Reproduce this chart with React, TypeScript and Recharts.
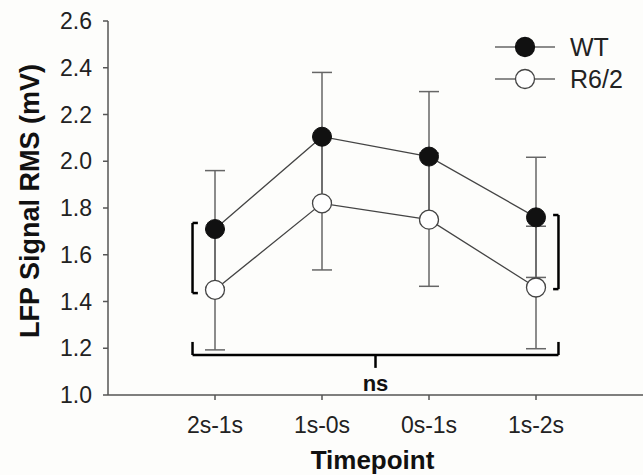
import {
  LineChart, Line, XAxis, YAxis, ErrorBar, ReferenceLine, ReferenceDot, Legend,
} from 'recharts';

const FONT = '"Liberation Sans", Arial, sans-serif';

const categories = ['2s-1s', '1s-0s', '0s-1s', '1s-2s'];
const wtMean = [1.71, 2.105, 2.02, 1.76];
const wtErr = [0.25, 0.275, 0.278, 0.257];
const r62Mean = [1.45, 1.82, 1.75, 1.46];
const r62Err = [0.257, 0.285, 0.285, 0.262];
const yTicks = [1.0, 1.2, 1.4, 1.6, 1.8, 2.0, 2.2, 2.4, 2.6];

// bracket annotations, in data units (x = category position, y = mV)
const bracketSegments = [
  // left "["
  [{ x: 0.79, y: 1.436 }, { x: 0.79, y: 1.736 }],
  [{ x: 0.79, y: 1.736 }, { x: 0.84, y: 1.736 }],
  [{ x: 0.79, y: 1.436 }, { x: 0.84, y: 1.436 }],
  // right "]"
  [{ x: 4.21, y: 1.453 }, { x: 4.21, y: 1.77 }],
  [{ x: 4.16, y: 1.77 }, { x: 4.21, y: 1.77 }],
  [{ x: 4.16, y: 1.453 }, { x: 4.21, y: 1.453 }],
  // bottom brace
  [{ x: 0.79, y: 1.171 }, { x: 4.21, y: 1.171 }],
  [{ x: 0.79, y: 1.171 }, { x: 0.79, y: 1.227 }],
  [{ x: 4.21, y: 1.171 }, { x: 4.21, y: 1.227 }],
  [{ x: 2.5, y: 1.171 }, { x: 2.5, y: 1.116 }],
];

const legendItems = [
  { name: 'WT', fill: '#111', stroke: '#111' },
  { name: 'R6/2', fill: '#fff', stroke: '#444' },
];

const data = categories.map((label, i) => ({
  x: i + 1,
  label,
  wt: wtMean[i],
  wtErr: wtErr[i],
  r62: r62Mean[i],
  r62Err: r62Err[i],
}));

function YLabel(props: any) {
  const { viewBox } = props;
  const cx = viewBox.x + 30;
  const cy = viewBox.y + viewBox.height / 2 - 7;
  return (
    <text
      x={cx}
      y={cy}
      transform={`rotate(-90 ${cx} ${cy})`}
      textAnchor="middle"
      dominantBaseline="central"
      fontFamily={FONT}
      fontWeight="bold"
      fontSize={27}
      fill="#111"
    >
      LFP Signal RMS (mV)
    </text>
  );
}

function XLabel(props: any) {
  const { viewBox } = props;
  return (
    <text
      x={viewBox.x + viewBox.width / 2 - 3}
      y={viewBox.y + 74}
      textAnchor="middle"
      fontFamily={FONT}
      fontWeight="bold"
      fontSize={26}
      fill="#111"
    >
      Timepoint
    </text>
  );
}

function LegendContent() {
  return (
    <div style={{ fontFamily: FONT, fontSize: 25, color: '#222' }}>
      {legendItems.map((item) => (
        <div key={item.name} style={{ display: 'flex', alignItems: 'center', height: 32 }}>
          <svg width={75} height={32}>
            <line x1={0} y1={16} x2={60} y2={16} stroke="#666" strokeWidth={1.5} />
            <circle cx={30} cy={16} r={9.5} fill={item.fill} stroke={item.stroke} strokeWidth={1.3} />
          </svg>
          <span>{item.name}</span>
        </div>
      ))}
    </div>
  );
}

export default function App() {
  document.body.style.margin = '0';
  return (
    <div style={{ width: 643, height: 475, background: '#fdfdfb' }}>
      <LineChart
        width={643}
        height={475}
        data={data}
        margin={{ top: 21, right: 0, left: 0, bottom: 0 }}
      >
        <XAxis
          type="number"
          dataKey="x"
          domain={[0, 5]}
          ticks={[1, 2, 3, 4]}
          tickFormatter={(v: number) => categories[v - 1]}
          tick={{ fontSize: 23, fill: '#222', fontFamily: FONT }}
          tickSize={5}
          tickMargin={17}
          axisLine={{ stroke: '#555', strokeWidth: 1.5 }}
          tickLine={{ stroke: '#555', strokeWidth: 1.5 }}
          height={80}
          label={<XLabel />}
        />
        <YAxis
          type="number"
          domain={[1.0, 2.6]}
          ticks={yTicks}
          tickFormatter={(v: number) => v.toFixed(1)}
          tick={{ fontSize: 23, fill: '#222', fontFamily: FONT }}
          tickSize={5}
          tickMargin={11}
          axisLine={{ stroke: '#555', strokeWidth: 1.5 }}
          tickLine={{ stroke: '#555', strokeWidth: 1.5 }}
          width={108}
          interval={0}
          label={<YLabel />}
        />
        <Legend
          layout="vertical"
          align="center"
          verticalAlign="middle"
          content={<LegendContent />}
          wrapperStyle={{ top: 31, left: 495, width: 140, height: 70 }}
        />
        {bracketSegments.map((seg, i) => (
          <ReferenceLine
            key={i}
            segment={seg}
            stroke="#000"
            strokeWidth={2.5}
            ifOverflow="visible"
          />
        ))}
        <ReferenceDot
          x={2.5}
          y={1.05}
          r={1}
          fill="transparent"
          stroke="none"
          ifOverflow="visible"
          label={{ value: 'ns', position: 'center', fontSize: 22, fontWeight: 'bold', fill: '#111', fontFamily: FONT }}
        />
        <Line
          dataKey="wt"
          name="WT"
          type="linear"
          stroke="#444"
          strokeWidth={1.3}
          dot={{ r: 9.5, fill: '#111', stroke: '#111', strokeWidth: 1 }}
          activeDot={false}
          isAnimationActive={false}
        >
          <ErrorBar dataKey="wtErr" width={10} stroke="#666" strokeWidth={1.5} direction="y" isAnimationActive={false} />
        </Line>
        <Line
          dataKey="r62"
          name="R6/2"
          type="linear"
          stroke="#444"
          strokeWidth={1.3}
          dot={{ r: 9.5, fill: '#fff', stroke: '#444', strokeWidth: 1.3 }}
          activeDot={false}
          isAnimationActive={false}
        >
          <ErrorBar dataKey="r62Err" width={10} stroke="#666" strokeWidth={1.5} direction="y" isAnimationActive={false} />
        </Line>
      </LineChart>
    </div>
  );
}
